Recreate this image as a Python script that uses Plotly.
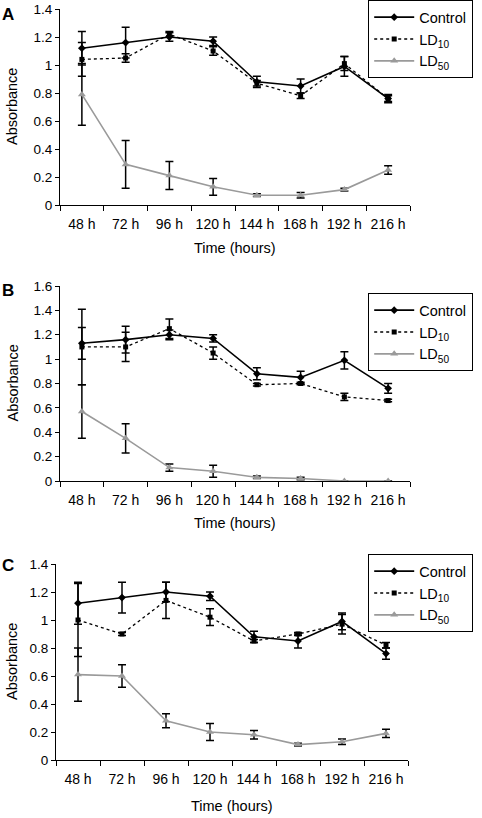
import plotly.graph_objects as go

times = ["48 h", "72 h", "96 h", "120 h", "144 h", "168 h", "192 h", "216 h"]

# Panel A
a_control = [1.12, 1.16, 1.20, 1.17, 0.88, 0.85, 0.99, 0.76]
a_control_err = [0.12, 0.11, 0.03, 0.03, 0.04, 0.05, 0.07, 0.03]
a_ld10 = [1.04, 1.05, 1.22, 1.10, 0.87, 0.78, 1.01, 0.76]
a_ld10_err = [0.12, 0.03, 0.02, 0.03, 0.02, 0.02, 0.05, 0.02]
a_ld50 = [0.79, 0.29, 0.21, 0.13, 0.07, 0.07, 0.11, 0.25]
a_ld50_err = [0.22, 0.17, 0.10, 0.06, 0.01, 0.02, 0.01, 0.03]

# Panel B
b_control = [1.13, 1.16, 1.20, 1.17, 0.88, 0.85, 0.99, 0.76]
b_control_err = [0.13, 0.11, 0.04, 0.03, 0.05, 0.05, 0.07, 0.04]
b_ld10 = [1.10, 1.10, 1.25, 1.05, 0.79, 0.80, 0.69, 0.66]
b_ld10_err = [0.31, 0.12, 0.08, 0.05, 0.01, 0.01, 0.03, 0.01]
b_ld50 = [0.57, 0.35, 0.11, 0.08, 0.03, 0.02, 0.0, 0.0]
b_ld50_err = [0.22, 0.12, 0.03, 0.05, 0.01, 0.01, 0.0, 0.0]

# Panel C
c_control = [1.12, 1.16, 1.20, 1.17, 0.88, 0.85, 0.99, 0.76]
c_control_err = [0.15, 0.11, 0.07, 0.03, 0.04, 0.05, 0.06, 0.04]
c_ld10 = [1.00, 0.90, 1.14, 1.02, 0.85, 0.90, 0.97, 0.82]
c_ld10_err = [0.26, 0.01, 0.13, 0.06, 0.01, 0.01, 0.07, 0.02]
c_ld50 = [0.61, 0.60, 0.28, 0.20, 0.18, 0.11, 0.13, 0.19]
c_ld50_err = [0.19, 0.08, 0.05, 0.06, 0.03, 0.01, 0.02, 0.03]

panels = [
    ("A", a_control, a_control_err, a_ld10, a_ld10_err, a_ld50, a_ld50_err, 1.4),
    ("B", b_control, b_control_err, b_ld10, b_ld10_err, b_ld50, b_ld50_err, 1.6),
    ("C", c_control, c_control_err, c_ld10, c_ld10_err, c_ld50, c_ld50_err, 1.4),
]

W, H = 482, 818
# plot area pixel boxes in page coords (left, right, top, bottom)
boxes = [(60, 410, 9, 205), (60, 410, 286, 481), (56, 408, 564, 760)]
legend_boxes = [(368, 0), (368, 293), (368, 554)]
label_y = [15, 290, 565]
xtitle_y = [248, 523, 806]


def px(x):
    return x / W


def py(y):
    return 1 - y / H


FONT = "Liberation Sans, Arial, sans-serif"
GREY = "#9a9a9a"

fig = go.Figure()
layout = dict(
    width=W, height=H,
    margin=dict(l=0, r=0, t=0, b=0, autoexpand=False),
    paper_bgcolor="white", plot_bgcolor="white",
    font=dict(family=FONT, size=13, color="black"),
    annotations=[],
)

for i, (lab, ctl, ctle, l10, l10e, l50, l50e, ymax) in enumerate(panels):
    n = "" if i == 0 else str(i + 1)
    xa, ya = "x" + n, "y" + n
    leg = "legend" + n
    eb = dict(type="data", visible=True, color="black", thickness=1.5, width=4)
    fig.add_trace(go.Scatter(
        x=times, y=ctl, name="Control", xaxis=xa, yaxis=ya, legend=leg,
        mode="lines+markers",
        line=dict(color="black", width=1.6),
        marker=dict(symbol="diamond", size=6, color="black"),
        error_y=dict(array=ctle, **eb)))
    fig.add_trace(go.Scatter(
        x=times, y=l10, name="LD<sub>10</sub>", xaxis=xa, yaxis=ya, legend=leg,
        mode="lines+markers",
        line=dict(color="black", width=1.3, dash="3px,3px"),
        marker=dict(symbol="square", size=5, color="black"),
        error_y=dict(array=l10e, **eb)))
    fig.add_trace(go.Scatter(
        x=times, y=l50, name="LD<sub>50</sub>", xaxis=xa, yaxis=ya, legend=leg,
        mode="lines+markers",
        line=dict(color=GREY, width=1.6),
        marker=dict(symbol="triangle-up", size=7, color=GREY),
        error_y=dict(array=l50e, **eb)))

    l, r, t, b = boxes[i]
    layout["xaxis" + n] = dict(
        domain=[px(l), px(r)], anchor=ya, type="category", range=[-0.5, 7.5],
        showline=True, linecolor="black", linewidth=1.2, mirror=False,
        ticks="outside", tickson="boundaries", ticklen=5, tickcolor="black",
        tickwidth=1.2, showgrid=False, zeroline=False, automargin=False,
        tickfont=dict(size=14), ticklabelstandoff=6, tickangle=0,
    )
    layout["yaxis" + n] = dict(
        domain=[py(b), py(t)], anchor=xa, range=[0, ymax], dtick=0.2, tick0=0,
        showline=True, linecolor="black", linewidth=1.2, automargin=False,
        ticks="outside", ticklen=4, tickcolor="black", tickwidth=1.2,
        showgrid=False, zeroline=False, tickfont=dict(size=13.5),
    )
    lx, ly = legend_boxes[i]
    layout[leg] = dict(
        x=px(lx), y=py(ly), xanchor="left", yanchor="top",
        bordercolor="black", borderwidth=1.2, bgcolor="white",
        font=dict(size=14.5), itemwidth=40, tracegroupgap=0,
    )
    ann = layout["annotations"]
    ann.append(dict(
        text="<b>%s</b>" % lab, x=px(8), y=py(label_y[i]),
        xref="paper", yref="paper", showarrow=False,
        xanchor="center", yanchor="middle", font=dict(size=17)))
    ann.append(dict(
        text="Time (hours)", x=px((l + r) / 2), y=py(xtitle_y[i]),
        xref="paper", yref="paper", showarrow=False,
        xanchor="center", yanchor="middle", font=dict(size=14.5)))
    ann.append(dict(
        text="Absorbance", x=px(12), y=py((t + b) / 2),
        xref="paper", yref="paper", showarrow=False, textangle=-90,
        xanchor="center", yanchor="middle", font=dict(size=14.5)))

fig.update_layout(**layout)
# remove the browser's default 8px body margin so the figure fills the window
fig.write_html(
    "out.html",
    config={"displayModeBar": False},
    post_script="document.body.style.margin='0px';",
)
